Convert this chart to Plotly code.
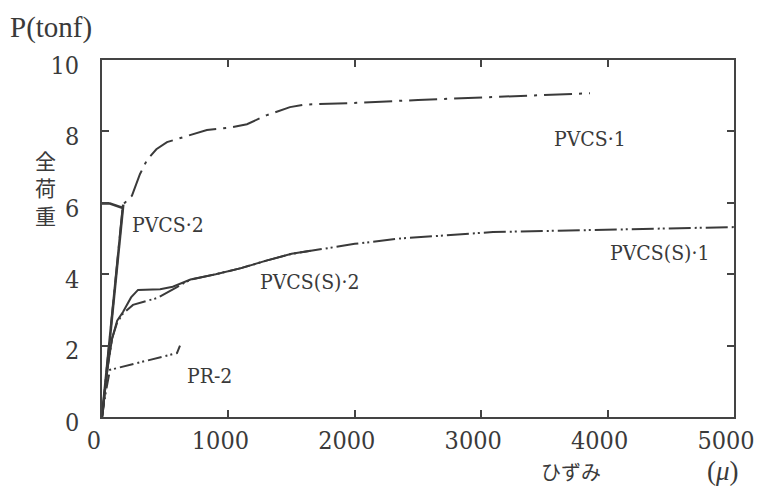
import plotly.graph_objects as go

# ---- data (strain in micro, load in tonf) ----
pvcs1_x = [0, 60, 120, 166, 237, 300, 356, 430, 514, 650, 830, 1000, 1147, 1300, 1487, 1600, 2017, 2500, 3070, 3500, 3860]
pvcs1_y = [0, 2.2, 4.3, 5.95, 6.2, 6.8, 7.2, 7.5, 7.7, 7.85, 8.04, 8.1, 8.2, 8.45, 8.68, 8.75, 8.8, 8.88, 8.96, 9.02, 9.07]

pvcs2_x = [0, 60, 120, 168, None, 0, 63, 160]
pvcs2_y = [0, 2.1, 4.2, 5.95, None, 5.98, 5.98, 5.86]

pvcss2_x = [0, 45, 80, 120, 166, 230, 285, 460, 560, 700, 900, 1100, 1300, 1500, 1650]
pvcss2_y = [0, 1.4, 2.2, 2.7, 2.94, 3.35, 3.56, 3.58, 3.65, 3.85, 4.0, 4.17, 4.38, 4.57, 4.66]

pvcss1_x = [0, 45, 80, 120, 166, 245, 350, 435, 593, 700, 900, 1100, 1300, 1500, 2000, 2358, 3093, 3600, 4200, 5000]
pvcss1_y = [0, 1.4, 2.2, 2.65, 2.9, 3.14, 3.25, 3.33, 3.64, 3.85, 4.0, 4.17, 4.38, 4.57, 4.85, 5.0, 5.18, 5.22, 5.27, 5.32]

pr2_x = [0, 30, 63, 119, 250, 435, 593, 617]
pr2_y = [0, 0.7, 1.32, 1.37, 1.5, 1.65, 1.79, 2.0]

x_ticks = [0, 1000, 2000, 3000, 4000, 5000]
y_ticks = [0, 2, 4, 6, 8, 10]

curve_labels = ["PVCS·1", "PVCS·2", "PVCS(S)·2", "PVCS(S)·1", "PR-2"]
label_x = [3560, 225, 1234, 4003, 657]
label_y = [7.8, 5.38, 3.78, 4.6, 1.15]

INK = "#3a3a3a"
NUMFONT = "DejaVu Serif Condensed, DejaVu Serif, serif"

fig = go.Figure()
fig.add_trace(go.Scatter(x=pvcs1_x, y=pvcs1_y, mode="lines",
                         line=dict(color=INK, width=2, dash="28px,7px,3px,7px"), connectgaps=False))
fig.add_trace(go.Scatter(x=pvcs2_x, y=pvcs2_y, mode="lines",
                         line=dict(color=INK, width=2.6), connectgaps=False))
fig.add_trace(go.Scatter(x=pvcss2_x, y=pvcss2_y, mode="lines",
                         line=dict(color=INK, width=2)))
fig.add_trace(go.Scatter(x=pvcss1_x, y=pvcss1_y, mode="lines",
                         line=dict(color=INK, width=2, dash="22px,4px,2px,3px,2px,4px")))
fig.add_trace(go.Scatter(x=pr2_x, y=pr2_y, mode="lines",
                         line=dict(color=INK, width=2, dash="14px,4px,2px,3px,2px,4px")))

for t, xv, yv in zip(curve_labels, label_x, label_y):
    fig.add_annotation(x=xv, y=yv, xref="x", yref="y", text=t, showarrow=False,
                       xanchor="left", yanchor="middle",
                       font=dict(family=NUMFONT, size=21, color=INK))

fig.update_layout(
    width=762, height=488,
    margin=dict(l=102, r=28, t=60, b=71, autoexpand=False),
    paper_bgcolor="white", plot_bgcolor="white",
    showlegend=False,
)

fig.add_annotation(x=-0.148, y=1.0, xref="paper", yref="paper", xanchor="left", yanchor="bottom",
                   yshift=14, text="P(tonf)", showarrow=False,
                   font=dict(family="Liberation Serif, DejaVu Serif, serif", size=29, color=INK))
fig.add_annotation(x=-0.09, y=0.644, xref="paper", yref="paper", xanchor="center", yanchor="middle",
                   text="全<br>荷<br>重", showarrow=False,
                   font=dict(family="Noto Sans CJK JP", size=21, color=INK))
fig.add_annotation(x=0.742, y=0, xref="paper", yref="paper", xanchor="center", yanchor="top",
                   yshift=-38, text="ひずみ", showarrow=False,
                   font=dict(family="Noto Sans CJK JP", size=20, color=INK))
fig.add_annotation(x=0.983, y=0, xref="paper", yref="paper", xanchor="center", yanchor="top",
                   yshift=-37, text="(<i>μ</i>)", showarrow=False,
                   font=dict(family="Liberation Serif, DejaVu Serif, serif", size=27, color=INK))

fig.update_xaxes(range=[0, 5000], tickvals=x_ticks, ticktext=[str(v) for v in x_ticks],
                 showgrid=False, zeroline=False, automargin=False,
                 showline=True, linecolor="#444", linewidth=1.6, mirror="ticks",
                 ticks="inside", ticklen=7, tickwidth=1.5, tickcolor="#444",
                 ticklabelshift=-8, ticklabeloverflow="allow",
                 tickfont=dict(family=NUMFONT, size=25, color=INK))
fig.update_yaxes(range=[0, 10], tickvals=y_ticks, ticktext=[str(v) for v in y_ticks],
                 showgrid=False, zeroline=False, automargin=False,
                 showline=True, linecolor="#444", linewidth=1.6, mirror="ticks",
                 ticks="inside", ticklen=7, tickwidth=1.5, tickcolor="#444",
                 ticklabelstandoff=16, ticklabelshift=5, ticklabeloverflow="allow",
                 tickfont=dict(family=NUMFONT, size=25, color=INK))

fig.write_html("out.html")
